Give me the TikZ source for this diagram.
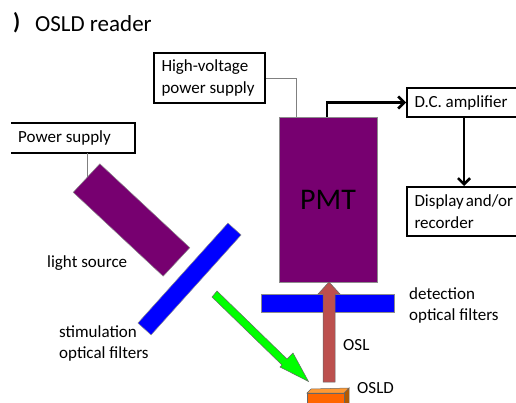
\documentclass[tikz,border=0pt]{standalone}
\usepackage{fontspec}
\setmainfont{Carlito}
\usetikzlibrary{arrows.meta}

\begin{document}
\begin{tikzpicture}[x=1pt, y=-1pt]
 \tikzstyle{textnode}=[inner sep = 0pt, anchor=west, align=flush left, text=black, font=\fontsize{17}{21.5}\selectfont]
 \tikzstyle{boxnode}=[textnode, draw=black, line width=2pt, text width=96pt, inner xsep=7.5pt, inner ysep=0pt]
 \tikzstyle{pmtnode}=[rectangle, inner sep = 0pt, draw=black!45, line width=0.5pt, fill=pmtpurple]
 \tikzstyle{filternode}=[rectangle, inner sep = 0pt, draw=black!45, line width=0.5pt, fill=blue]
 \tikzstyle{line} = [draw, black, line width=2.6pt, -{Straight Barb[length=6pt, width=12pt, line width=2.6pt]}]
 \tikzstyle{wire} = [draw, black!50, line width=0.8pt]
 \definecolor{pmtpurple}{HTML}{770070}
 \definecolor{oslred}{HTML}{BC504E}

 \useasboundingbox (0, 0) rectangle (516, 403);
 \clip (0, 0) rectangle (516, 403);

 % title
 \node[textnode, font=\bfseries\fontsize{23}{26}\selectfont] (part) at (13, 23) {)};
 \node[textnode, font=\fontsize{23}{26}\selectfont] (title) at (35, 24) {OSLD reader};

 % wires first, the boxes sit on top
 \coordinate (hvin) at (296, 117);
 \coordinate (pmtout) at (327, 117);
 \coordinate (lightin) at (87, 178);

 % left side
 \node[textnode, text width=110pt, minimum height=30pt, inner xsep=7pt] (psu) at (11, 138) {Power supply};
 \draw[black, line width=2pt] (psu.north west) -| (psu.south east) -- (psu.south west);
 \draw[wire] (lightin |- psu.south) -- (lightin);
 \node[pmtnode, minimum width=123pt, minimum height=39pt, rotate=-43] (light) at (131.5, 220) {};
 \node[filternode, minimum width=134.5pt, minimum height=17.7pt, rotate=48] (stimfilter) at (189.5, 279) {};
 \node[textnode] (lightlabel) at (47, 263) {light source};
 \node[textnode] (stimlabel) at (59, 343.5) {stimulation\\optical filters};

 % PMT column
 \node[pmtnode, minimum width=98pt, minimum height=165pt] (pmt) at (328, 199.5) {};
 \node[text=black, inner sep=0pt, font=\fontsize{30}{32}\selectfont] (pmtlabel) at (328, 200) {PMT};
 \node[filternode, minimum width=133pt, minimum height=18pt] (detfilter) at (327.5, 303) {};
 \node[textnode] (detlabel) at (409, 305.5) {detection\\optical filters};

 % readout
 \node[boxnode, minimum height=50pt] (hv) at (153, 78) {High-voltage\\power supply};
 \node[boxnode, minimum height=29pt, text width=110pt] (dc) at (406, 102.5) {D.C. amplifier};
 \node[boxnode, minimum height=49pt, text width=110pt] (display) at (406, 211.5) {Display\hspace{2pt}and/or\\recorder};
 \draw[wire] (hv.east) -| (hvin);
 \path [line] (pmtout) |- (dc.west);
 \coordinate (dcout) at (464, 117);
 \path [line] (dcout) -- (dcout |- display.north);

 % block arrows
 \draw[fill=oslred, draw=black!60, line width=0.5pt] (323, 382) -- (323, 294) -- (318, 294) -- (329, 282) -- (340, 294) -- (335, 294) -- (335, 382) -- cycle;
 \draw[fill=green, draw=black!60, line width=0.5pt] (212, 297) -- (217, 291) -- (287, 359) -- (293, 353) -- (308.5, 381.5) -- (280, 367) -- (282, 365) -- cycle;
 \node[textnode] (osl) at (343, 345) {OSL};

 % OSLD chip
 \draw[fill=orange!70!black, draw=black!60, line width=0.5pt] (344, 393) -- (349, 388) -- (349, 404) -- (344, 404) -- cycle;
 \draw[fill=orange!80!white, draw=black!60, line width=0.5pt] (307, 393) -- (311, 389) -- (349, 388) -- (344, 393) -- cycle;
 \node[rectangle, inner sep=0pt, fill={rgb,255:red,255;green,102;blue,0}, draw=black!60, line width=0.5pt, minimum width=37pt, minimum height=14pt] (osld) at (325.5, 400) {};
 \node[textnode] (osldlabel) at (357, 388) {OSLD};
\end{tikzpicture}
\end{document}
